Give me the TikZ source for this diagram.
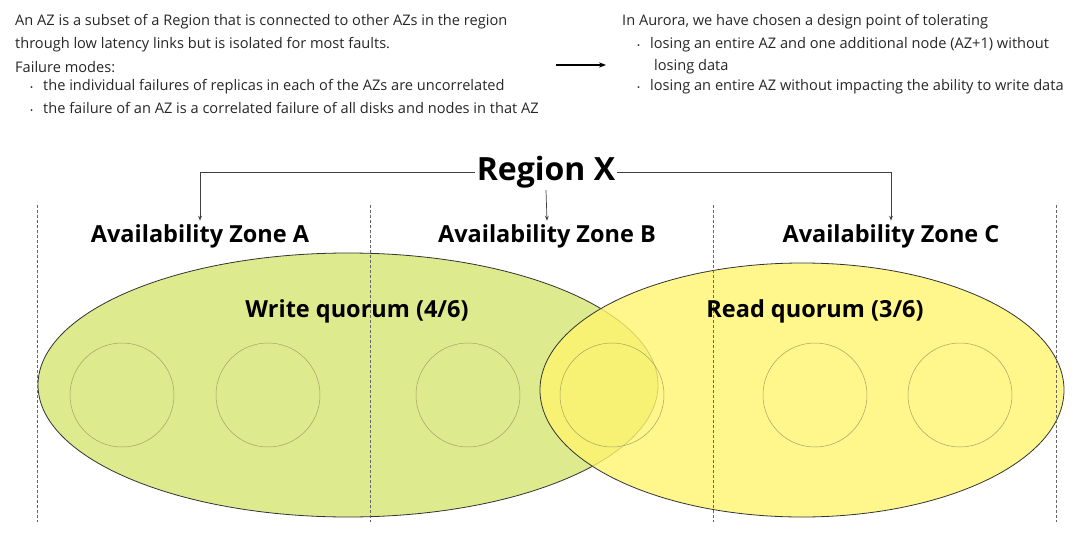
\documentclass[tikz,border=0pt]{standalone}
\usepackage{fontspec}
\setmainfont{Open Sans}
\usetikzlibrary{arrows.meta}
\begin{document}
\begin{tikzpicture}[x=1pt,y=-1pt,
  txt/.style={anchor=west,inner sep=0,font=\fontsize{14.6}{17}\selectfont,text=black!85},
  zone/.style={font=\bfseries\fontsize{23.5}{27}\selectfont},
  azsep/.style={densely dashed,black!60,line width=0.6pt},
  conn/.style={black!75,line width=0.7pt,-{Stealth[length=5pt]}},
  rep/.style={circle,minimum size=104pt,draw=black!35!olive!60,line width=0.5pt,inner sep=0}]
\useasboundingbox (0,0) rectangle (1080,536);
\node[txt] (t1) at (15,22) {An AZ is a subset of a Region that is connected to other AZs in the region};
\node[txt] (t2) at (15,45) {through low latency links but is isolated for most faults.};
\node[txt] (t3) at (15,67) {Failure modes:};
\node[txt] (t4) at (30,87) {{\footnotesize•}\hspace{10pt}the individual failures of replicas in each of the AZs are uncorrelated};
\node[txt] (t5) at (30,108) {{\footnotesize•}\hspace{10pt}the failure of an AZ is a correlated failure of all disks and nodes in that AZ};
\node[txt] (r1) at (622,22) {In Aurora, we have chosen a design point of tolerating};
\node[txt] (r2) at (637,45) {{\footnotesize•}\hspace{10pt}losing an entire AZ and one additional node (AZ+1) without};
\node[txt] (r3) at (654,67) {losing data};
\node[txt] (r4) at (637,87) {{\footnotesize•}\hspace{10pt}losing an entire AZ without impacting the ability to write data};
\coordinate (a1) at (556,65); \coordinate (a2) at (606,65);
\draw[line width=1.5pt,-{Stealth[length=7pt]}] (a1) -- (a2);

\fill[fill={rgb,255:red,222;green,234;blue,142}] (348,385) ellipse [x radius=310,y radius=132];
\draw[black!80,line width=0.8pt] (348,385) ellipse [x radius=310,y radius=132];
\fill[fill={rgb,255:red,255;green,245;blue,110},opacity=0.8] (802,390) ellipse [x radius=262,y radius=127];
\draw[black!80,line width=0.8pt] (802,390) ellipse [x radius=262,y radius=127];

\foreach \x/\n in {122/c1,268/c2,468/c3,612/c4,815/c5,960/c6}
  \node[rep] (\n) at (\x,395) {};

\foreach \x in {37,370,713,1056} \draw[azsep] (\x,205) -- (\x,522);

\node[font=\bfseries\fontsize{32}{36}\selectfont,inner sep=2pt] (reg) at (546,172) {Region X};
\node[zone] (za) at (200,236) {Availability Zone A};
\node[zone] (zb) at (547,236) {Availability Zone B};
\node[zone] (zc) at (891,236) {Availability Zone C};
\draw[conn] (reg.west) -| (za.north);
\draw[conn] (reg.east) -| (zc.north);
\draw[conn] (reg.south) -- (zb.north);
\node[zone] (wq) at (357,311) {Write quorum (4/6)};
\node[zone] (rq) at (815,311) {Read quorum (3/6)};
\end{tikzpicture}
\end{document}
